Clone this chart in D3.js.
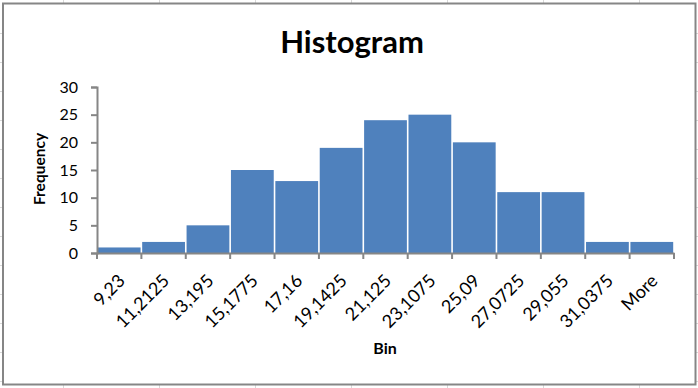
<!DOCTYPE html>
<html><head><meta charset="utf-8">
<script src="https://cdn.jsdelivr.net/npm/d3@7"></script>
<style>html,body{margin:0;padding:0;background:#fff;}svg{display:block;}</style>
</head><body>
<svg id="c" width="698" height="388"></svg>
<script>
const bins = ["9,23","11,2125","13,195","15,1775","17,16","19,1425","21,125","23,1075","25,09","27,0725","29,055","31,0375","More"];
const frequency = [1,2,5,15,13,19,24,25,20,11,11,2,2];
const yTicks = [0,5,10,15,20,25,30];
const title = "Histogram";
const xTitle = "Bin";
const yTitle = "Frequency";

const svg = d3.select("#c");
const W = 698, H = 388;
const font = "Lato, 'Open Sans', sans-serif";

// spreadsheet gridlines behind chart
const g0 = svg.append("g").attr("stroke","#d9d9d9").attr("stroke-width",1);
d3.range(63, W, 96).forEach(x => g0.append("line").attr("x1",x+0.5).attr("x2",x+0.5).attr("y1",0).attr("y2",H));
d3.range(33, H, 29).forEach(y => g0.append("line").attr("x1",0).attr("x2",W).attr("y1",y+0.5).attr("y2",y+0.5));

// chart area
svg.append("rect").attr("x",3).attr("y",3.5).attr("width",692.5).attr("height",381)
  .attr("fill","#fff").attr("stroke","#868686").attr("stroke-width",2);

const m = {left:97, right:674, top:87, bottom:253};
const x = d3.scaleBand().domain(bins).range([m.left, m.right]).padding(0);
const y = d3.scaleLinear().domain([0,30]).range([m.bottom, m.top]);

// bars
svg.append("g").selectAll("rect").data(bins).join("rect")
  .attr("x", d => x(d) + 0.8)
  .attr("y", (d,i) => y(frequency[i]))
  .attr("width", x.bandwidth() - 1.6)
  .attr("height", (d,i) => y(0) - y(frequency[i]))
  .attr("fill", "#4F81BD");

const axisColor = "#868686";
// y axis
const ya = svg.append("g").attr("transform",`translate(${m.left},0)`)
  .call(d3.axisLeft(y).tickValues(yTicks).tickSize(6).tickPadding(13).tickFormat(d3.format("d")));
ya.select(".domain").attr("stroke",axisColor).attr("stroke-width",2);
ya.selectAll(".tick line").attr("stroke",axisColor).attr("stroke-width",2);
ya.selectAll(".tick text").attr("font-family",font).attr("font-size",16).attr("fill","#000");

// x axis
const xa = svg.append("g").attr("transform",`translate(0,${m.bottom})`)
  .call(d3.axisBottom(x).tickSize(0).tickFormat(""));
xa.select(".domain").attr("stroke",axisColor).attr("stroke-width",2);
// boundary ticks
const bounds = bins.map(d => x(d)).concat([m.right]);
svg.append("g").selectAll("line").data(bounds).join("line")
  .attr("x1", d => d).attr("x2", d => d).attr("y1", m.bottom).attr("y2", m.bottom + 6)
  .attr("stroke", axisColor).attr("stroke-width",2);
// labels
svg.append("g").selectAll("text").data(bins).join("text")
  .attr("transform", d => `translate(${x(d) + x.bandwidth()/2 - 2},${m.bottom + 20}) rotate(-45)`)
  .attr("text-anchor","end").attr("dy","0.7em")
  .attr("font-family",font).attr("font-size",18).attr("fill","#000")
  .text(d => d);

// titles
svg.append("text").attr("x",352).attr("y",53).attr("text-anchor","middle")
  .attr("font-family",font).attr("font-weight","bold").attr("font-size",31).text(title);
svg.append("text").attr("x",385).attr("y",354).attr("text-anchor","middle")
  .attr("font-family",font).attr("font-weight","bold").attr("font-size",16).text(xTitle);
svg.append("text").attr("transform","translate(45,169) rotate(-90)").attr("text-anchor","middle")
  .attr("font-family",font).attr("font-weight","bold").attr("font-size",15.5).text(yTitle);
</script>
</body></html>
